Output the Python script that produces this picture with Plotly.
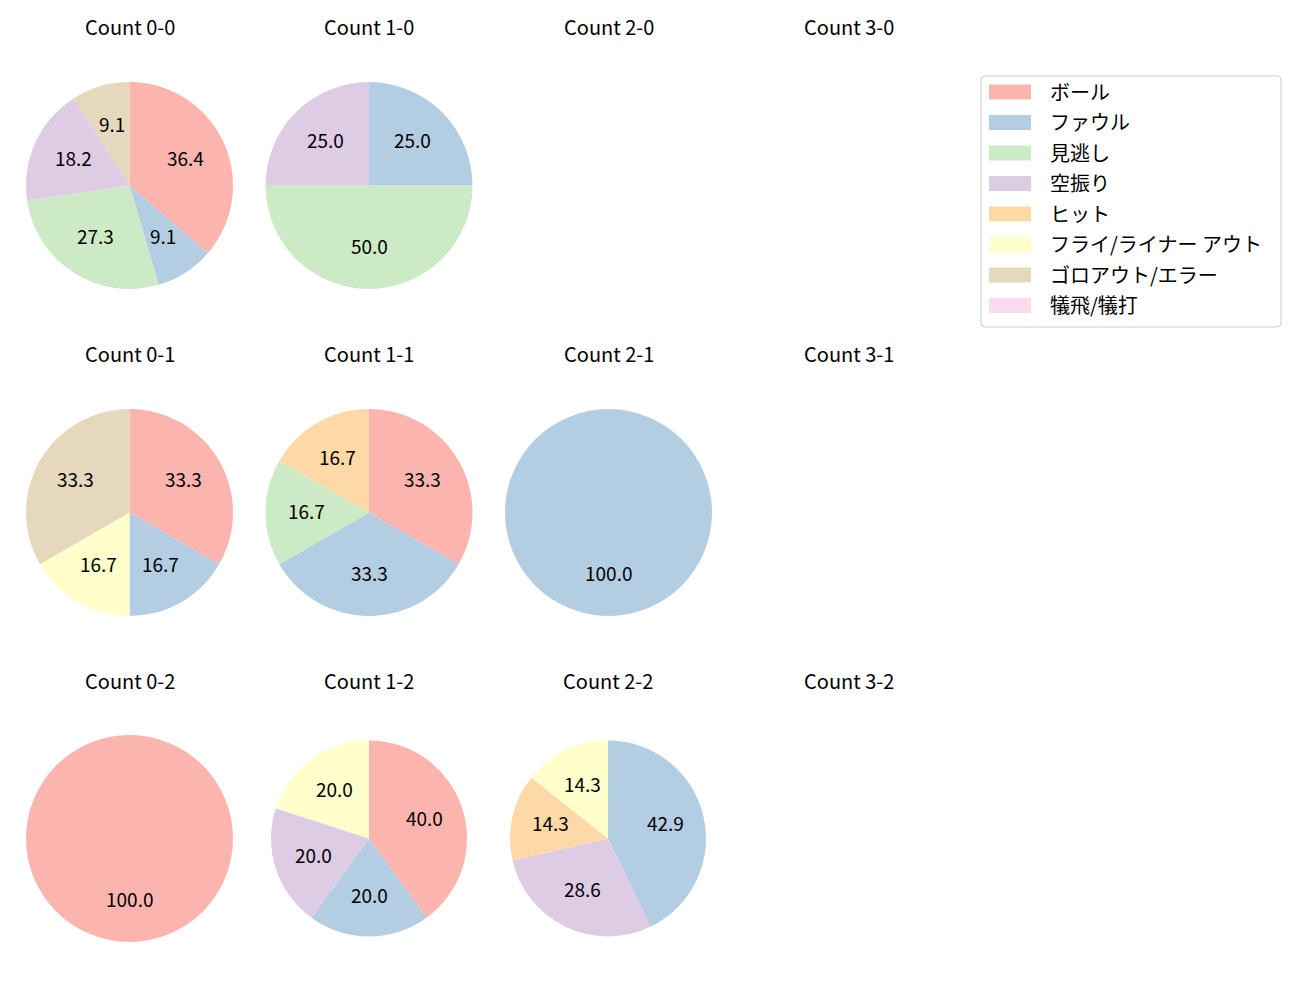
import math

import plotly.graph_objects as go

W, H = 1300, 1000

labels = [
    "ボール",
    "ファウル",
    "見逃し",
    "空振り",
    "ヒット",
    "フライ/ライナー アウト",
    "ゴロアウト/エラー",
    "犠飛/犠打",
]
colors = ["#fbb4ae", "#b3cde3", "#ccebc5", "#decbe4", "#fed9a6", "#ffffcc", "#e5d8bd", "#fddaec"]

titles = ["Count 0-0", "Count 1-0", "Count 2-0", "Count 3-0",
          "Count 0-1", "Count 1-1", "Count 2-1", "Count 3-1",
          "Count 0-2", "Count 1-2", "Count 2-2", "Count 3-2"]

# pitch outcome counts per ball-strike count (order = labels)
count_0_0 = [4, 1, 3, 2, 0, 0, 1, 0]
count_1_0 = [0, 1, 2, 1, 0, 0, 0, 0]
count_2_0 = []
count_3_0 = []
count_0_1 = [2, 1, 0, 0, 0, 1, 2, 0]
count_1_1 = [2, 2, 1, 0, 1, 0, 0, 0]
count_2_1 = [0, 1, 0, 0, 0, 0, 0, 0]
count_3_1 = []
count_0_2 = [1, 0, 0, 0, 0, 0, 0, 0]
count_1_2 = [2, 1, 0, 1, 0, 1, 0, 0]
count_2_2 = [0, 3, 0, 2, 1, 1, 0, 0]
count_3_2 = []

panels = [count_0_0, count_1_0, count_2_0, count_3_0,
          count_0_1, count_1_1, count_2_1, count_3_1,
          count_0_2, count_1_2, count_2_2, count_3_2]

col_x = [129.5, 369, 608.5, 849]
row_y = [185.5, 512.5, 838.5]
title_y = [28, 355, 682]
small_r = {9: 98, 10: 98}

fig = go.Figure()
annotations = []

for i, (title, vals) in enumerate(zip(titles, panels)):
    r_idx, c_idx = divmod(i, 4)
    cx, cy = col_x[c_idx], row_y[r_idx]
    if i == 10:
        cx = 608
    annotations.append(dict(
        x=cx, y=title_y[r_idx], xref="x", yref="y", text=title, showarrow=False,
        font=dict(size=20, color="#000000"), xanchor="center", yanchor="middle",
        yshift=2,
    ))
    if not vals:
        continue
    rad = small_r.get(i, 103.5)
    idx = [k for k, v in enumerate(vals) if v > 0]
    total = sum(vals)
    fig.add_trace(go.Pie(
        labels=[labels[k] for k in idx],
        values=[vals[k] for k in idx],
        marker=dict(colors=[colors[k] for k in idx], line=dict(width=0)),
        sort=False,
        direction="clockwise",
        rotation=0,
        textinfo="none",
        hoverinfo="label+percent",
        showlegend=False,
        domain=dict(x=[(cx - rad) / W, (cx + rad) / W],
                    y=[1 - (cy + rad) / H, 1 - (cy - rad) / H]),
    ))
    cum = 0.0
    for k in idx:
        frac = vals[k] / total
        theta = math.radians(90 - 360 * (cum + frac / 2))
        cum += frac
        annotations.append(dict(
            x=cx + 0.6 * rad * math.cos(theta),
            y=cy - 0.6 * rad * math.sin(theta),
            xref="x", yref="y", text=f"{100 * frac:.1f}", showarrow=False,
            font=dict(size=19, color="#000000"), xanchor="center", yanchor="middle",
            yshift=2.5,
        ))

# legend
lx0, lx1, ly0, ly1 = 981, 1281, 76, 327
rr = 4
fig.add_shape(
    type="path",
    path=(f"M {lx0 + rr} {ly0} L {lx1 - rr} {ly0} Q {lx1} {ly0} {lx1} {ly0 + rr} "
          f"L {lx1} {ly1 - rr} Q {lx1} {ly1} {lx1 - rr} {ly1} L {lx0 + rr} {ly1} "
          f"Q {lx0} {ly1} {lx0} {ly1 - rr} L {lx0} {ly0 + rr} Q {lx0} {ly0} {lx0 + rr} {ly0} Z"),
    xref="x", yref="y", line=dict(color="#cccccc", width=1), fillcolor="rgba(255,255,255,0.8)",
)
for k, (lab, col) in enumerate(zip(labels, colors)):
    yc = 92 + 30.5 * k
    fig.add_shape(type="rect", x0=989, x1=1031, y0=yc - 7.5, y1=yc + 7.5,
                  xref="x", yref="y", line=dict(width=0), fillcolor=col)
    annotations.append(dict(
        x=1048, y=yc, xref="x", yref="y", text=lab, showarrow=False,
        font=dict(size=20, color="#000000"), xanchor="left", yanchor="middle",
        yshift=1,
    ))

fig.update_layout(
    width=W,
    height=H,
    margin=dict(l=0, r=0, t=0, b=0),
    paper_bgcolor="white",
    plot_bgcolor="white",
    font=dict(family="Noto Sans CJK JP, Noto Sans, sans-serif"),
    annotations=annotations,
    xaxis=dict(range=[0, W], visible=False, domain=[0, 1], fixedrange=True),
    yaxis=dict(range=[H, 0], visible=False, domain=[0, 1], fixedrange=True),
    showlegend=False,
)
fig.write_html(
    "out.html",
    config={"displayModeBar": False},
    post_script="document.body.style.margin = '0';",
)
